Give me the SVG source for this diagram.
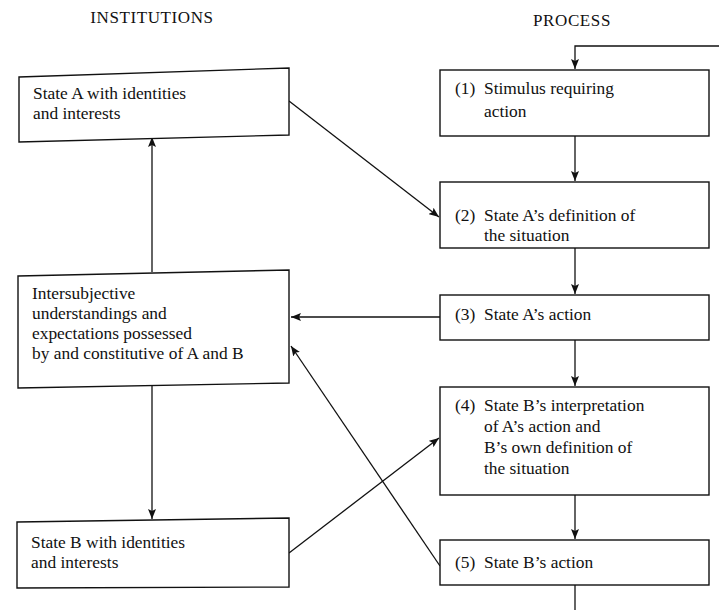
<svg xmlns="http://www.w3.org/2000/svg" width="719" height="610" viewBox="0 0 719 610">
<defs>
<style>
.box{fill:#fff;stroke:#111;stroke-width:1.4}
.t{font-family:"Liberation Serif","Times New Roman",serif;font-size:17.4px;fill:#111}
.h{font-family:"Liberation Serif","Times New Roman",serif;font-size:17px;fill:#111;text-anchor:middle;letter-spacing:0.6px}
.c{fill:none;stroke:#111;stroke-width:1.3}
</style>
<marker id="ah" viewBox="0 0 10 8" refX="10" refY="4" markerWidth="10" markerHeight="8" markerUnits="userSpaceOnUse" orient="auto">
<path d="M0,0 L10,4 L0,8 L2,4 z" fill="#111"/>
</marker>
</defs>
<rect width="719" height="610" fill="#fff"/>
<text class="h" x="152" y="23">INSTITUTIONS</text>
<text class="h" x="572" y="26">PROCESS</text>

<g id="connectors">
<polyline class="c" points="719,46 575,46 575,69" marker-end="url(#ah)"/>
<line class="c" x1="575" y1="136" x2="575" y2="181" marker-end="url(#ah)"/>
<line class="c" x1="575" y1="248" x2="575" y2="294" marker-end="url(#ah)"/>
<line class="c" x1="575" y1="340" x2="575" y2="386" marker-end="url(#ah)"/>
<line class="c" x1="575" y1="495" x2="575" y2="539" marker-end="url(#ah)"/>
<line class="c" x1="575" y1="585" x2="575" y2="610"/>
<line class="c" x1="152" y1="272" x2="152" y2="137" marker-end="url(#ah)"/>
<line class="c" x1="152" y1="385" x2="152" y2="519" marker-end="url(#ah)"/>
<line class="c" x1="289" y1="101" x2="439" y2="217" marker-end="url(#ah)"/>
<line class="c" x1="440" y1="317" x2="291" y2="317" marker-end="url(#ah)"/>
<line class="c" x1="440" y1="566" x2="291" y2="346" marker-end="url(#ah)"/>
<line class="c" x1="289" y1="553" x2="439" y2="438" marker-end="url(#ah)"/>
</g>

<g id="stateA">
<polygon class="box" points="19,77 289,68 289,135 19,142"/>
<text class="t" x="33" y="99">State A with identities</text>
<text class="t" x="33" y="119">and interests</text>
</g>

<g id="intersubjective">
<polygon class="box" points="18,276 289,270 289,383 18,388"/>
<text class="t" x="32" y="299">Intersubjective</text>
<text class="t" x="32" y="319">understandings and</text>
<text class="t" x="32" y="339">expectations possessed</text>
<text class="t" x="32" y="359">by and constitutive of A and B</text>
</g>

<g id="stateB">
<polygon class="box" points="17,522 289,518 289,587 17,588"/>
<text class="t" x="31" y="548">State B with identities</text>
<text class="t" x="31" y="568">and interests</text>
</g>

<g id="step1">
<rect class="box" x="440" y="70" width="269" height="66"/>
<text class="t" x="455" y="94">(1)</text>
<text class="t" x="484" y="94">Stimulus requiring</text>
<text class="t" x="484" y="117">action</text>
</g>

<g id="step2">
<rect class="box" x="440" y="182" width="269" height="66"/>
<text class="t" x="455" y="221">(2)</text>
<text class="t" x="484" y="221">State A’s definition of</text>
<text class="t" x="484" y="241">the situation</text>
</g>

<g id="step3">
<rect class="box" x="440" y="295" width="269" height="45"/>
<text class="t" x="455" y="320">(3)</text>
<text class="t" x="484" y="320">State A’s action</text>
</g>

<g id="step4">
<rect class="box" x="440" y="387" width="269" height="108"/>
<text class="t" x="455" y="411">(4)</text>
<text class="t" x="484" y="411">State B’s interpretation</text>
<text class="t" x="484" y="432">of A’s action and</text>
<text class="t" x="484" y="453">B’s own definition of</text>
<text class="t" x="484" y="474">the situation</text>
</g>

<g id="step5">
<rect class="box" x="440" y="540" width="269" height="45"/>
<text class="t" x="455" y="568">(5)</text>
<text class="t" x="484" y="568">State B’s action</text>
</g>
</svg>
